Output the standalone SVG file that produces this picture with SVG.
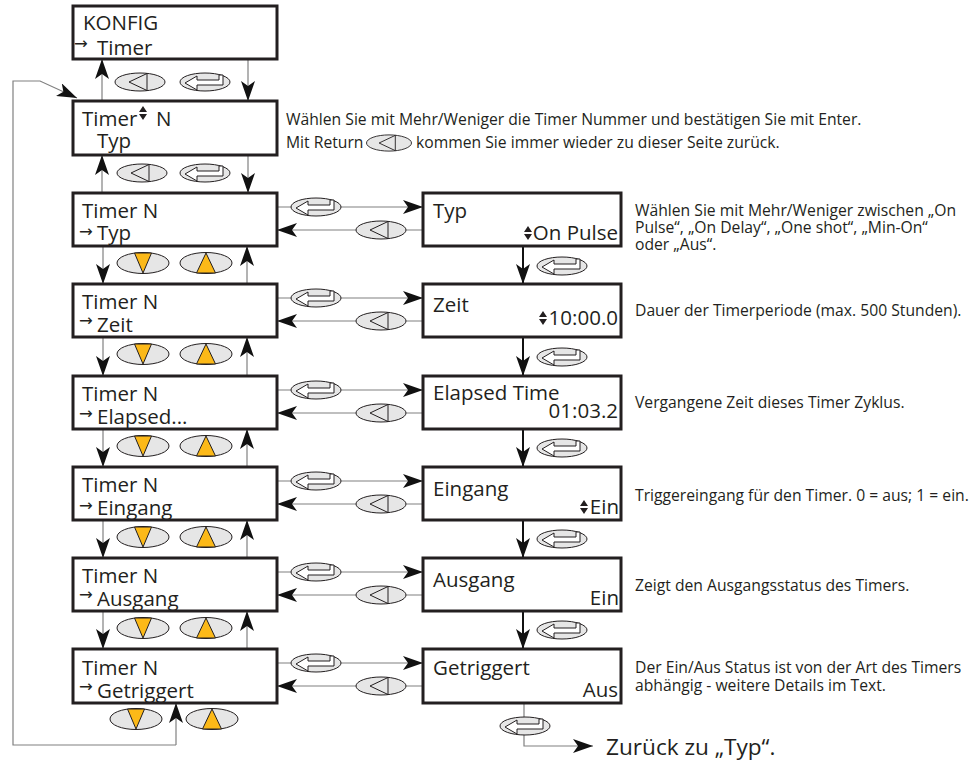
<svg xmlns="http://www.w3.org/2000/svg" xmlns:xlink="http://www.w3.org/1999/xlink" width="976" height="761" viewBox="0 0 976 761">
<style>
text{font-family:"Open Sans","Liberation Sans",sans-serif;fill:#231f20}
.box{fill:#fff;stroke:#231f20;stroke-width:3}
.bt{font-size:20.5px}
.ar{font-family:"DejaVu Sans",sans-serif;font-size:16.5px}
.d{font-size:15.7px}
.con{fill:none;stroke:#808080;stroke-width:1.2}
.thk{fill:none;stroke:#111;stroke-width:2}
.ell{fill:#e6e6e6;stroke:#231f20;stroke-width:1}
.ico{fill:#fff;stroke:#231f20;stroke-width:1}
.tri{fill:none;stroke:#231f20;stroke-width:1}
.yel{fill:#fcb918;stroke:#231f20;stroke-width:1}
.ud{fill:#231f20}
</style>
<defs>
<marker id="ah" viewBox="0 0 20 14" refX="20" refY="7" markerWidth="20" markerHeight="14" markerUnits="userSpaceOnUse" orient="auto">
<path d="M0,0 L20,7 L0,14 L5,7 Z" fill="#111"/>
</marker>
<g id="bBack"><ellipse class="ell" rx="25" ry="9"/><path class="tri" d="M-11,0 L7,-8.5 L7,8.5 Z"/></g>
<g id="bEnter"><ellipse class="ell" rx="25" ry="9"/><path class="ico" d="M-20,1 L-8,-6 L-8,-2 L14,-2 L14,-7 L18,-7 L18,3 L-8,3 L-8,8 Z"/></g>
<g id="bDown"><ellipse class="ell" rx="26" ry="10.5"/><path class="yel" d="M-8.5,-10 L8.5,-10 L0,10 Z"/></g>
<g id="bUp"><ellipse class="ell" rx="26" ry="10.5"/><path class="yel" d="M0,-10 L-9.5,10 L9.5,10 Z"/></g>
<path id="udsym" d="M0,-7 L4,-1 L-4,-1 Z M0,7 L4,1 L-4,1 Z"/>
</defs>

<g id="connectors">
<path class="con" d="M248,59 V101" marker-end="url(#ah)"/>
<path class="con" d="M102,101 V59" marker-end="url(#ah)"/>
<path class="con" d="M248,155 V193" marker-end="url(#ah)"/>
<path class="con" d="M102,193 V155" marker-end="url(#ah)"/>
<path class="con" d="M103,246 V284" marker-end="url(#ah)"/>
<path class="con" d="M247,284 V246" marker-end="url(#ah)"/>
<path class="con" d="M103,337 V376" marker-end="url(#ah)"/>
<path class="con" d="M247,376 V337" marker-end="url(#ah)"/>
<path class="con" d="M103,429 V467" marker-end="url(#ah)"/>
<path class="con" d="M247,467 V429" marker-end="url(#ah)"/>
<path class="con" d="M103,520 V558" marker-end="url(#ah)"/>
<path class="con" d="M247,558 V520" marker-end="url(#ah)"/>
<path class="con" d="M103,611 V649" marker-end="url(#ah)"/>
<path class="con" d="M247,649 V611" marker-end="url(#ah)"/>
<path class="con" d="M176,745 V703" marker-end="url(#ah)"/>
<path class="con" d="M176,745 H13 V81 H40 L77,98" marker-end="url(#ah)"/>
<path class="con" d="M277,207 H423" marker-end="url(#ah)"/>
<path class="con" d="M423,230 H277" marker-end="url(#ah)"/>
<path class="con" d="M277,298 H423" marker-end="url(#ah)"/>
<path class="con" d="M423,321 H277" marker-end="url(#ah)"/>
<path class="con" d="M277,390 H423" marker-end="url(#ah)"/>
<path class="con" d="M423,413 H277" marker-end="url(#ah)"/>
<path class="con" d="M277,481 H423" marker-end="url(#ah)"/>
<path class="con" d="M423,504 H277" marker-end="url(#ah)"/>
<path class="con" d="M277,572 H423" marker-end="url(#ah)"/>
<path class="con" d="M423,595 H277" marker-end="url(#ah)"/>
<path class="con" d="M277,663 H423" marker-end="url(#ah)"/>
<path class="con" d="M423,686 H277" marker-end="url(#ah)"/>
<path class="thk" d="M523,246 V284" marker-end="url(#ah)"/>
<path class="thk" d="M523,337 V376" marker-end="url(#ah)"/>
<path class="thk" d="M523,429 V467" marker-end="url(#ah)"/>
<path class="thk" d="M523,520 V558" marker-end="url(#ah)"/>
<path class="thk" d="M523,611 V649" marker-end="url(#ah)"/>
<path class="con" d="M524,703 V746 H593" marker-end="url(#ah)"/>
<use xlink:href="#bBack" x="140" y="82"/>
<use xlink:href="#bEnter" x="205" y="82"/>
<use xlink:href="#bBack" x="142" y="173"/>
<use xlink:href="#bEnter" x="205" y="173"/>
<use xlink:href="#bDown" x="143" y="263"/>
<use xlink:href="#bUp" x="206" y="263"/>
<use xlink:href="#bDown" x="143" y="354"/>
<use xlink:href="#bUp" x="206" y="354"/>
<use xlink:href="#bDown" x="143" y="446"/>
<use xlink:href="#bUp" x="206" y="446"/>
<use xlink:href="#bDown" x="143" y="537"/>
<use xlink:href="#bUp" x="206" y="537"/>
<use xlink:href="#bDown" x="143" y="628"/>
<use xlink:href="#bUp" x="206" y="628"/>
<use xlink:href="#bDown" x="136" y="719"/>
<use xlink:href="#bUp" x="212" y="719"/>
<use xlink:href="#bEnter" x="316" y="207"/>
<use xlink:href="#bBack" x="381" y="230"/>
<use xlink:href="#bEnter" x="316" y="298"/>
<use xlink:href="#bBack" x="381" y="321"/>
<use xlink:href="#bEnter" x="316" y="390"/>
<use xlink:href="#bBack" x="381" y="413"/>
<use xlink:href="#bEnter" x="316" y="481"/>
<use xlink:href="#bBack" x="381" y="504"/>
<use xlink:href="#bEnter" x="316" y="572"/>
<use xlink:href="#bBack" x="381" y="595"/>
<use xlink:href="#bEnter" x="316" y="663"/>
<use xlink:href="#bBack" x="381" y="686"/>
<use xlink:href="#bEnter" x="562" y="266"/>
<use xlink:href="#bEnter" x="562" y="357"/>
<use xlink:href="#bEnter" x="562" y="448"/>
<use xlink:href="#bEnter" x="562" y="539"/>
<use xlink:href="#bEnter" x="562" y="630"/>
<use xlink:href="#bEnter" x="525" y="726"/>
</g>

<g id="konfig">
<rect class="box" x="73" y="6" width="204" height="53"/>
<text class="bt" x="83" y="30">KONFIG<tspan class="ar" x="74" dy="19">→</tspan><tspan x="97" dy="6">Timer</tspan></text>
</g>

<g id="timer-select">
<rect class="box" x="73" y="101" width="204" height="54"/>
<use xlink:href="#udsym" class="ud" x="143" y="113"/>
<text class="bt" x="82" y="126">Timer<tspan x="156">N</tspan><tspan x="97" dy="22">Typ</tspan></text>
</g>

<g id="left-typ">
<rect class="box" x="73" y="193" width="204" height="53"/>
<text class="bt" x="82" y="218">Timer N<tspan class="ar" x="79" dy="19">→</tspan><tspan x="97" dy="3">Typ</tspan></text>
</g>
<g id="left-zeit">
<rect class="box" x="73" y="284" width="204" height="53"/>
<text class="bt" x="82" y="309">Timer N<tspan class="ar" x="79" dy="17">→</tspan><tspan x="97" dy="6">Zeit</tspan></text>
</g>
<g id="left-elapsed">
<rect class="box" x="73" y="376" width="204" height="53"/>
<text class="bt" x="82" y="401">Timer N<tspan class="ar" x="79" dy="18">→</tspan><tspan x="97" dy="5">Elapsed...</tspan></text>
</g>
<g id="left-eingang">
<rect class="box" x="73" y="467" width="204" height="53"/>
<text class="bt" x="82" y="492">Timer N<tspan class="ar" x="79" dy="19">→</tspan><tspan x="97" dy="4">Eingang</tspan></text>
</g>
<g id="left-ausgang">
<rect class="box" x="73" y="558" width="204" height="53"/>
<text class="bt" x="82" y="583">Timer N<tspan class="ar" x="79" dy="17">→</tspan><tspan x="97" dy="6">Ausgang</tspan></text>
</g>
<g id="left-getriggert">
<rect class="box" x="73" y="649" width="204" height="54"/>
<text class="bt" x="82" y="675">Timer N<tspan class="ar" x="79" dy="17">→</tspan><tspan x="97" dy="6">Getriggert</tspan></text>
</g>

<g id="right-typ">
<rect class="box" x="423" y="193" width="198" height="53"/>
<text class="bt" x="433" y="218">Typ</text>
<use xlink:href="#udsym" class="ud" x="528" y="233"/>
<text class="bt" x="618" y="240" text-anchor="end">On Pulse</text>
</g>
<g id="right-zeit">
<rect class="box" x="423" y="284" width="198" height="53"/>
<text class="bt" x="433" y="312">Zeit</text>
<use xlink:href="#udsym" class="ud" x="543" y="318"/>
<text class="bt" x="618" y="325" text-anchor="end">10:00.0</text>
</g>
<g id="right-elapsed">
<rect class="box" x="423" y="376" width="198" height="53"/>
<text class="bt" x="433" y="400">Elapsed Time</text>
<text class="bt" x="618" y="418" text-anchor="end">01:03.2</text>
</g>
<g id="right-eingang">
<rect class="box" x="423" y="467" width="198" height="53"/>
<text class="bt" x="433" y="496">Eingang</text>
<use xlink:href="#udsym" class="ud" x="584" y="507"/>
<text class="bt" x="619" y="514" text-anchor="end">Ein</text>
</g>
<g id="right-ausgang">
<rect class="box" x="423" y="558" width="198" height="53"/>
<text class="bt" x="433" y="587">Ausgang</text>
<text class="bt" x="619" y="605" text-anchor="end">Ein</text>
</g>
<g id="right-getriggert">
<rect class="box" x="423" y="649" width="198" height="54"/>
<text class="bt" x="433" y="675">Getriggert</text>
<text class="bt" x="618" y="697" text-anchor="end">Aus</text>
</g>

<g id="descriptions">
<text class="d" x="286" y="125">Wählen Sie mit Mehr/Weniger die Timer Nummer und bestätigen Sie mit Enter.<tspan x="286" dy="23">Mit Return</tspan><tspan x="416">kommen Sie immer wieder zu dieser Seite zurück.</tspan></text>
<use xlink:href="#bBack" transform="translate(389,143) scale(0.9)"/>
<text class="d" x="635" y="216">Wählen Sie mit Mehr/Weniger zwischen „On<tspan x="635" dy="17">Pulse“, „On Delay“, „One shot“, „Min-On“</tspan><tspan x="635" dy="17">oder „Aus“.</tspan></text>
<text class="d" x="635" y="316">Dauer der Timerperiode (max. 500 Stunden).</text>
<text class="d" x="635" y="408">Vergangene Zeit dieses Timer Zyklus.</text>
<text class="d" x="635" y="501">Triggereingang für den Timer. 0 = aus; 1 = ein.</text>
<text class="d" x="635" y="591">Zeigt den Ausgangsstatus des Timers.</text>
<text class="d" x="635" y="673">Der Ein/Aus Status ist von der Art des Timers<tspan x="635" dy="18">abhängig - weitere Details im Text.</tspan></text>
<text x="606" y="755" style="font-size:22.6px">Zurück zu „Typ“.</text>
</g>
</svg>
